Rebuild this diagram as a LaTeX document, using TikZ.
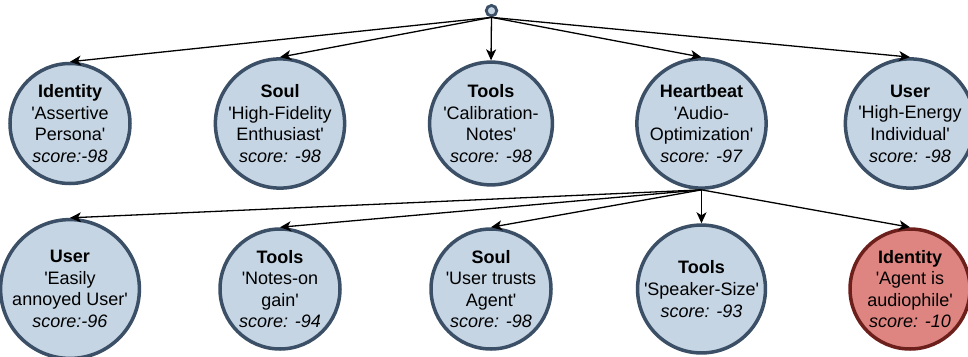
\documentclass[tikz,border=0pt]{standalone}
\usepackage{fontspec}
\setmainfont{Liberation Sans}
\usetikzlibrary{arrows.meta}
\definecolor{nfill}{HTML}{C5D5E4}
\definecolor{nline}{HTML}{3B4F66}
\definecolor{rfill}{HTML}{DE8581}
\definecolor{rline}{HTML}{6D1F1B}
\newcommand{\myq}{\textquotesingle}
\tikzset{
  bubble/.style={circle, draw=nline, fill=nfill, line width=3.5pt, minimum size=120pt,
    inner sep=0pt, align=center, font=\fontsize{18}{21.6}\selectfont},
  redbubble/.style={bubble, draw=rline, fill=rfill},
  rootdot/.style={circle, draw=nline, fill=nfill, line width=2.8pt, minimum size=10.5pt, inner sep=0pt},
  edge/.style={line width=1.3pt, -{Stealth[length=11pt,width=10pt,inset=3pt]}}
}
\begin{document}
\begin{tikzpicture}[x=1pt,y=-1pt]
\useasboundingbox (0,0) rectangle (968,356);
\node[rootdot] (root) at (491.5,10.7) {};
% top row
\node[bubble] (t1) at (70,123.5) {\textbf{Identity}\\\myq Assertive\\Persona\myq\\\textit{score:-98}};
\node[bubble] (t2) at (280,123.5) {\textbf{Soul}\\\myq High-Fidelity\\Enthusiast\myq\\\textit{score: -98}};
\node[bubble] (t3) at (491,123.5) {\textbf{Tools}\\\myq Calibration-\\Notes\myq\\\textit{score: -98}};
\node[bubble] (t4) at (701.5,123.5) {\textbf{Heartbeat}\\\myq Audio-\\Optimization\myq\\\textit{score: -97}};
\node[bubble] (t5) at (910,123.5) {\textbf{User}\\\myq High-Energy\\Individual\myq\\\textit{score: -98}};
% bottom row
\node[bubble] (b1) at (70,289) {\textbf{User}\\\myq Easily\\annoyed User\myq\\\textit{score:-96}};
\node[bubble] (b2) at (280,289) {\textbf{Tools}\\\myq Notes-on\\gain\myq\\\textit{score: -94}};
\node[bubble] (b3) at (491,289) {\textbf{Soul}\\\myq User trusts\\Agent\myq\\\textit{score: -98}};
\node[bubble] (b4) at (701.5,289) {\textbf{Tools}\\\myq Speaker-Size\myq\\\textit{score: -93}};
\node[redbubble] (b5) at (910,289) {\textbf{Identity}\\\myq Agent is\\audiophile\myq\\\textit{score: -10}};
% edges
\foreach \t in {t1,t2,t3,t4,t5}{\draw[edge] (root.south) -- (\t.north);}
\foreach \b in {b1,b2,b3,b4,b5}{\draw[edge] (t4.south) -- (\b.north);}
\end{tikzpicture}
\end{document}
